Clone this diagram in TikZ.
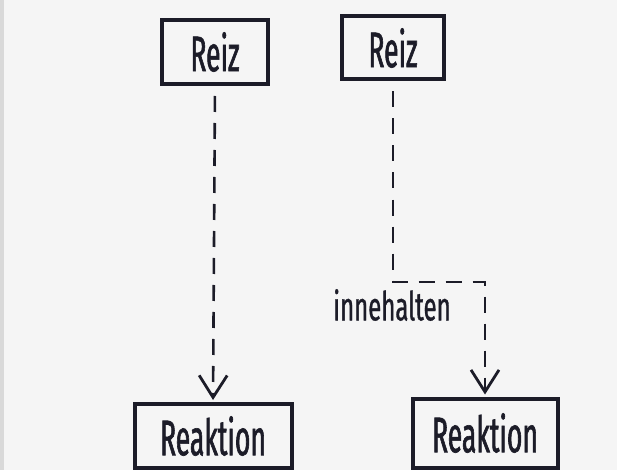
\documentclass[tikz,border=0pt]{standalone}
\usepackage{fontspec}
\usetikzlibrary{arrows.meta}
\newfontfamily\handfont[FakeStretch=0.53,FakeBold=1.2]{Fira Sans}
\newfontfamily\notefont[FakeStretch=0.6,FakeBold=0.8]{Fira Sans}
\definecolor{paper}{HTML}{F5F5F5}
\definecolor{ink}{HTML}{1C1C28}
\begin{document}
\begin{tikzpicture}[x=1pt,y=-1pt,
  box/.style={draw=ink, line width=4pt, rectangle, inner sep=0pt,
    text=ink, font=\handfont\fontsize{50}{50}\selectfont},
  flow/.style={draw=ink, line width=2.6pt, dash pattern=on 16pt off 11pt,
    -{Straight Barb[length=22pt,width=28pt,line width=2.8pt]}},
  note/.style={text=ink, inner sep=0pt, font=\notefont\fontsize{40}{40}\selectfont}]
  % paper
  \fill[paper] (0,0) rectangle (617,470);
  \fill[gray!30] (0,0) rectangle (4,470);
  \useasboundingbox (0,0) rectangle (617,470);

  % stimulus boxes
  \node[box, minimum width=106pt, minimum height=64pt] (reizL) at (215,52) {Reiz};
  \node[box, minimum width=102pt, minimum height=63pt] (reizR) at (393,48) {Reiz};

  % reaction boxes
  \node[box, minimum width=157pt, minimum height=64pt] (reaktL) at (213,436) {Reaktion};
  \node[box, minimum width=145pt, minimum height=69pt] (reaktR) at (485,433) {Reaktion};

  % direct path: stimulus straight to reaction
  \draw[flow, shorten <=10pt, shorten >=2pt] (reizL.south) -- (reaktL.north);

  % path with a pause in between
  \coordinate (turn) at (0,282);
  \draw[flow, shorten >=2pt] ([yshift=-10pt]reizR.south) -- (reizR.south |- turn) -| (reaktR.north);
  \node[note] (pause) at (392,305) {innehalten};
\end{tikzpicture}
\end{document}
